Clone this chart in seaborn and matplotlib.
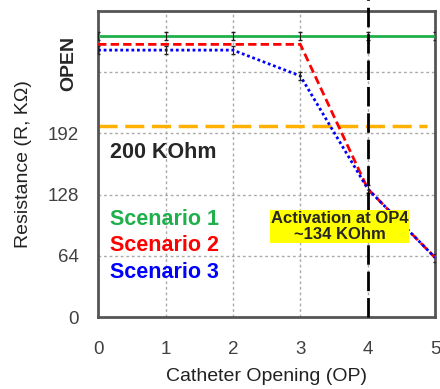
import matplotlib
matplotlib.use("Agg")
import matplotlib.pyplot as plt
import seaborn as sns
import pandas as pd
import numpy as np

# Data
openings = [0, 1, 2, 3, 4, 5]
scenario1 = [294, 294, 294, 294, 294, 294]
scenario2 = [285, 285, 285, 285, 134, 62]
scenario3 = [279, 279, 279, 252, 134, 62]
threshold = 200
activation_op = 4
yticks = [0, 64, 128, 192, 256]
ytick_labels = ["0", "64", "128", "192", ""]
xticks = [0, 1, 2, 3, 4, 5]
names = ["Scenario 1", "Scenario 2", "Scenario 3"]
colors = {"Scenario 1": "#1fb04b", "Scenario 2": "#ff0000", "Scenario 3": "#0000ff"}

df = pd.DataFrame({
    "OP": openings * 3,
    "R": scenario1 + scenario2 + scenario3,
    "Scenario": [n for n in names for _ in openings],
})

sns.set_style("white")
plt.rcParams['font.family'] = ['Liberation Sans', 'DejaVu Sans']

fig = plt.figure(figsize=(4.4, 3.89), dpi=100)
ax = fig.add_axes([0.223, 0.185, 0.766, 0.787])

# grid
for x in [1, 2, 3, 4]:
    ax.axvline(x, color="#aaaaaa", ls=(0, (2, 2)), lw=1, zorder=0)
for y in [64, 128, 192, 256]:
    ax.axhline(y, color="#aaaaaa", ls=(0, (2, 2)), lw=1, zorder=0)

# threshold
ax.plot([0, 4.88], [threshold, threshold], color="#ffb000", lw=2.5,
        ls=(0, (5.5, 2.2)), zorder=1)

sns.lineplot(data=df, x="OP", y="R", hue="Scenario", style="Scenario",
             palette=colors,
             dashes={"Scenario 1": "", "Scenario 2": (3, 1.5), "Scenario 3": (1, 1)},
             linewidth=2, ax=ax, legend=False, zorder=3)

# small error marks
for vals in [scenario1, scenario3]:
    ax.errorbar(openings, vals, yerr=4, fmt="none", ecolor="#222222",
                elinewidth=0.8, capsize=1.5, zorder=4)

# activation line
ax.plot([activation_op, activation_op], [0, 333], color="black", lw=2,
        ls=(0, (7, 2.5)), clip_on=False, zorder=5)

ax.set_xlim(0, 5)
ax.set_ylim(0, 320)
ax.set_xticks(xticks)
ax.set_yticks(yticks)
ax.set_yticklabels(ytick_labels)
ax.tick_params(axis="both", labelsize=13.5, labelcolor="#404040", length=0)
ax.tick_params(axis="x", pad=17)
ax.tick_params(axis="y", pad=14)
ax.set_xlabel("Catheter Opening (OP)", fontsize=14, color="#222222")
ax.set_ylabel("Resistance (R, K\u03a9)", fontsize=14, color="#222222")
ax.xaxis.set_label_coords(0.5, -0.168)
ax.yaxis.set_label_coords(-0.195, 0.5)

for s in ax.spines.values():
    s.set_color("#555555")
    s.set_linewidth(2)

ax.text(-0.44, 265, "OPEN", rotation=90, fontsize=14, fontweight="bold",
        ha="center", va="center", clip_on=False)
ax.text(0.18, 172, "200 KOhm", fontsize=15.5, fontweight="bold", ha="left", va="center")
ax.text(0.18, 102, "Scenario 1", fontsize=15.5, fontweight="bold", color="#1fb04b",
        ha="left", va="center")
ax.text(0.18, 75, "Scenario 2", fontsize=15.5, fontweight="bold", color="#ff0000",
        ha="left", va="center")
ax.text(0.18, 47, "Scenario 3", fontsize=15.5, fontweight="bold", color="#0000ff",
        ha="left", va="center")
ax.text(3.58, 95, "Activation at OP4\n~134 KOhm", fontsize=12, fontweight="bold",
        ha="center", va="center", linespacing=1.1,
        bbox=dict(boxstyle="square,pad=0.05", fc="#ffff00", ec="none"), zorder=6)

fig.savefig("out.png", dpi=100)
